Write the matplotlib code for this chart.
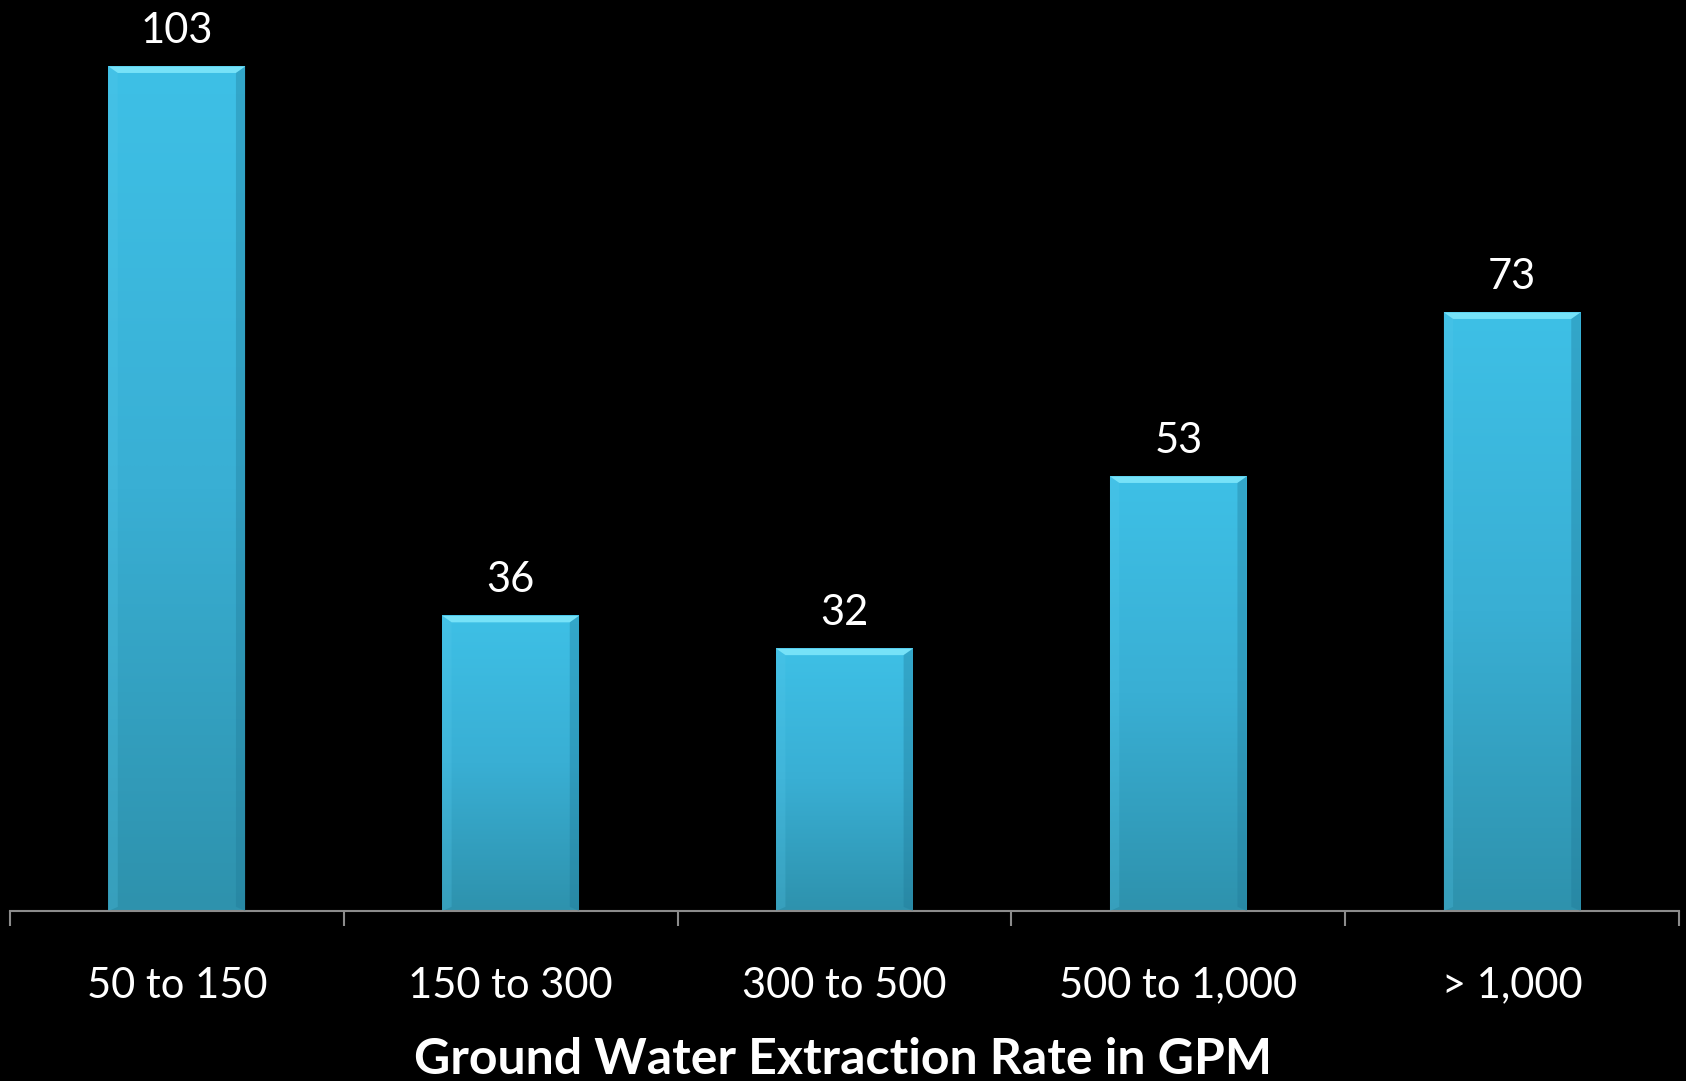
import numpy as np
import matplotlib.pyplot as plt
from matplotlib.colors import LinearSegmentedColormap
from matplotlib.patches import Polygon

categories = ["50 to 150", "150 to 300", "300 to 500", "500 to 1,000", "> 1,000"]
counts = [103, 36, 32, 53, 73]
xlabel = "Ground Water Extraction Rate in GPM"

plt.rcParams['font.family'] = ['Lato', 'DejaVu Sans']

fig = plt.figure(figsize=(16.86, 10.81), dpi=100, facecolor='black')
ax = fig.add_axes([0.0059, 0.1573, 0.99, 0.8427], facecolor='black')

width = 0.41
x = np.arange(len(categories))
ax.set_xlim(-0.5, len(categories) - 0.5)
ax.set_ylim(0, 111.1)

# vertical gradient for the bars
cmap = LinearSegmentedColormap.from_list("bar", ["#2e92ad", "#39afd4", "#3ec0e6"])
grad = np.linspace(0, 1, 256).reshape(-1, 1)

for xi, v in zip(x, counts):
    l, r = xi - width / 2, xi + width / 2
    ax.imshow(grad, cmap=cmap, origin='lower', aspect='auto',
              extent=(l, r, 0, v), zorder=2, interpolation='bicubic')
    # top bevel (light) and side edges
    bh = 0.8
    bw = 0.028
    ax.add_patch(Polygon([(l, v), (r, v), (r - bw, v - bh), (l + bw, v - bh)],
                         closed=True, facecolor='#76e2f8', edgecolor='none', zorder=3))
    ax.add_patch(Polygon([(l, 0), (l, v), (l + bw, v - bh), (l + bw, 0.5)],
                         closed=True, facecolor='#55c8ea', edgecolor='none', alpha=0.25, zorder=3))
    ax.add_patch(Polygon([(r, 0), (r, v), (r - bw, v - bh), (r - bw, 0.5)],
                         closed=True, facecolor='#1f7896', edgecolor='none', alpha=0.35, zorder=3))
    ax.annotate(str(v), (xi, v), xytext=(0, 12), textcoords='offset points',
                ha='center', va='bottom', color='white', fontsize=30)

for s in ['top', 'right', 'left']:
    ax.spines[s].set_visible(False)
ax.spines['bottom'].set_color('#8c8c8c')
ax.spines['bottom'].set_linewidth(1.5)
ax.set_yticks([])
ax.set_xticks(np.arange(len(categories) + 1) - 0.5, minor=False)
ax.set_xticklabels([])
ax.tick_params(axis='x', which='major', length=11, width=1.5, color='#8c8c8c')
ax.set_xticks(x, minor=True)
ax.set_xticklabels(categories, minor=True)
ax.tick_params(axis='x', which='minor', length=0, pad=40, labelsize=30, labelcolor='white')

fig.text(0.5, 0.0065, xlabel, ha='center', va='baseline', color='white',
         fontsize=36, fontweight='bold')

fig.savefig("out.png", dpi=100, facecolor='black')
